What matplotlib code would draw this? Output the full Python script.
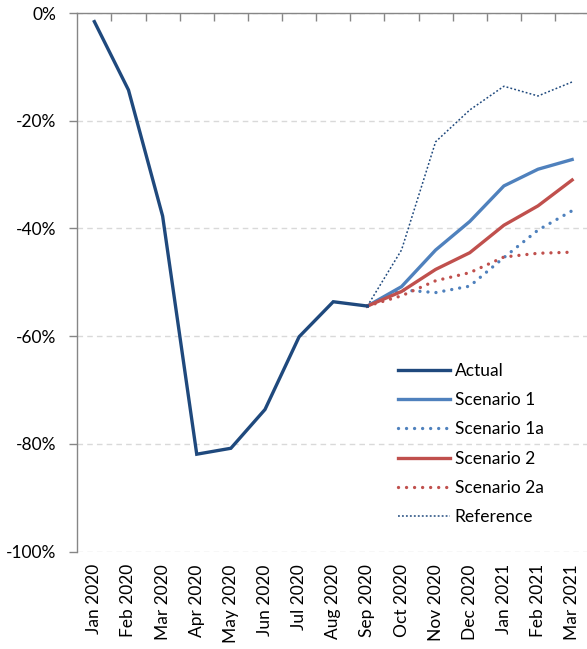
import matplotlib
matplotlib.use("Agg")
import matplotlib.pyplot as plt
import numpy as np

months = ["Jan 2020", "Feb 2020", "Mar 2020", "Apr 2020", "May 2020", "Jun 2020",
          "Jul 2020", "Aug 2020", "Sep 2020", "Oct 2020", "Nov 2020", "Dec 2020",
          "Jan 2021", "Feb 2021", "Mar 2021"]

actual = [-1.6, -14.3, -37.7, -81.9, -80.8, -73.6, -60.1, -53.6, -54.4]
# forecasts start at Sep 2020 (index 8)
scenario1 = [-54.4, -50.8, -44.0, -38.7, -32.1, -29.0, -27.2]
scenario1a = [-54.4, -51.4, -51.9, -50.7, -45.4, -40.3, -36.7]
scenario2 = [-54.4, -51.7, -47.6, -44.5, -39.4, -35.8, -31.0]
scenario2a = [-54.4, -52.5, -49.7, -48.2, -45.3, -44.6, -44.4]
reference = [-54.4, -44.0, -23.9, -18.0, -13.6, -15.4, -12.8]

yticks = [0, -20, -40, -60, -80, -100]
ytick_labels = ["0%", "-20%", "-40%", "-60%", "-80%", "-100%"]

plt.rcParams['font.family'] = ['Lato', 'DejaVu Sans']

W, H = 587, 649
FS = 12.5
fig = plt.figure(figsize=(W / 100, H / 100), dpi=100)
ax = fig.add_axes([77.3 / W, 1 - 551.7 / H, (589.2 - 77.3) / W, (551.7 - 13) / H])

x_act = np.arange(len(actual))
x_fc = np.arange(8, 8 + len(scenario1))

dark = "#1F497D"
blue = "#4F81BD"
red = "#C0504D"

ax.plot(x_act, actual, color=dark, lw=2.4, solid_joinstyle='miter', label="Actual", zorder=6)
ax.plot(x_fc, scenario1, color=blue, lw=2.4, label="Scenario 1", zorder=5)
ax.plot(x_fc, scenario1a, color=blue, lw=2.4, linestyle=(0, (0.01, 2.4)),
        dash_capstyle='round', label="Scenario 1a", zorder=4)
ax.plot(x_fc, scenario2, color=red, lw=2.4, label="Scenario 2", zorder=5)
ax.plot(x_fc, scenario2a, color=red, lw=2.4, linestyle=(0, (0.01, 2.4)),
        dash_capstyle='round', label="Scenario 2a", zorder=4)
ax.plot(x_fc, reference, color=dark, lw=1.1, linestyle=(0, (1.2, 1.4)),
        label="Reference", zorder=3)

ax.set_xlim(-0.5, 14.5)
ax.set_ylim(-100, 0)
ax.set_yticks(yticks)
ax.set_yticklabels(ytick_labels, fontsize=FS)
ax.set_xticks(np.arange(len(months)))
ax.set_xticklabels(months, rotation=90, fontsize=FS)
ax.set_xticks(np.arange(0.5, 14.5, 1.0), minor=True)

ax.tick_params(axis='x', which='major', length=0, pad=9, colors='black')
ax.tick_params(axis='x', which='minor', top=True, bottom=False, direction='in',
               length=6, color='#868686', width=1)
ax.tick_params(axis='y', which='major', length=6, color='#868686', width=1, pad=9)

for s in ['right', 'bottom']:
    ax.spines[s].set_visible(False)
for s in ['left', 'top']:
    ax.spines[s].set_color('#868686')
    ax.spines[s].set_linewidth(1)

ax.grid(axis='y', color='#D9D9D9', linestyle=(0, (4, 3)), lw=1)
ax.set_axisbelow(True)

leg = ax.legend(loc='upper left', bbox_to_anchor=(397.5 / W, 1 - 363 / H),
                bbox_transform=fig.transFigure, frameon=False, fontsize=FS,
                handlelength=3.05, handletextpad=0.25, labelspacing=0.76,
                borderaxespad=0, borderpad=0)

fig.savefig("out.png", dpi=100)
